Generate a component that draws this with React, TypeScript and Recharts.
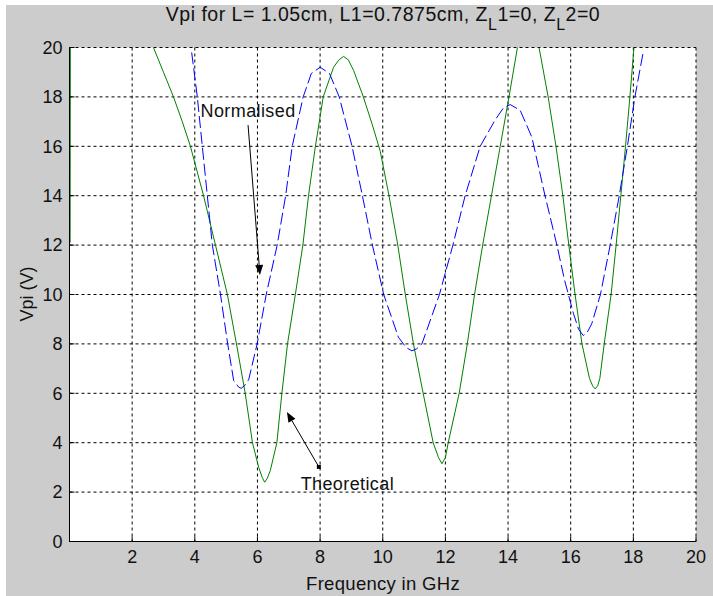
import React from 'react'
import { LineChart, Line, XAxis, YAxis, CartesianGrid, ReferenceLine, ReferenceDot } from 'recharts'

const xTicks = [0, 2, 4, 6, 8, 10, 12, 14, 16, 18, 20]
const yTicks = [0, 2, 4, 6, 8, 10, 12, 14, 16, 18, 20]

const theoFreq = [
  0.02, 0.03, 2.4, 2.68, 3.0, 3.32, 3.6, 3.86, 4.28, 4.66, 5.04, 5.33, 5.61, 5.84, 6.04, 6.15, 6.23, 6.31, 6.41,
  6.62, 6.78, 6.96, 7.21, 7.45, 7.63, 7.85, 8.1, 8.43, 8.6, 8.75, 8.9, 9.07, 9.38, 9.66, 9.92, 10.2, 10.48,
  10.72, 10.98, 11.29, 11.61, 11.78, 11.89, 12.0, 12.09, 12.44, 12.7, 12.93, 13.19, 13.47, 13.75, 14.03,
  14.3, 14.65, 14.99, 15.28, 15.53, 15.75, 15.94, 16.14, 16.36, 16.6, 16.7, 16.78, 16.86, 16.93, 17.07,
  17.29, 17.45, 17.6, 17.75, 17.89, 18.02, 18.1,
]
const theoVpi = [
  12.1, 25, 20.9, 20, 19.0, 18, 17.0, 16, 14, 12, 10, 8, 6, 4, 3.0, 2.6, 2.4, 2.55, 2.87,
  4, 6, 8, 10, 12, 14, 16, 18, 19.2, 19.5, 19.64, 19.5, 19.07, 18, 16.9, 15.8, 14, 12,
  10, 8, 6, 4, 3.4, 3.15, 3.4, 4, 6, 8, 10, 12, 14, 16, 18,
  20, 20.8, 20, 18, 16, 14, 12, 10, 8, 6.6, 6.3, 6.18, 6.3, 6.6, 8,
  10, 12, 14, 16, 18, 20, 21,
]

const normFreq = [
  3.9, 4.08, 4.24, 4.4, 4.56, 4.82, 5.05, 5.24, 5.4, 5.48, 5.58, 5.72, 5.99, 6.28, 6.63, 6.9, 7.11, 7.46, 7.72,
  8.0, 8.3, 8.61, 9.02, 9.35, 9.67, 10.03, 10.5, 10.75, 10.93, 11.08, 11.25, 11.81, 12.24, 12.63, 13.11,
  13.59, 13.85, 14.07, 14.39, 14.76, 15.18, 15.56, 15.8, 16.09, 16.25, 16.4, 16.52, 16.67, 16.95, 17.1,
  17.26, 17.55, 17.81, 18.05, 18.32,
]
const normVpi = [
  19.8, 18, 16, 14, 12, 10, 8, 6.52, 6.25, 6.2, 6.3, 6.55, 8, 10, 12, 14, 16, 18, 18.95,
  19.2, 18.95, 18, 16, 14, 12, 10, 8.27, 7.85, 7.72, 7.8, 8, 10, 12, 14, 16,
  17.07, 17.55, 17.69, 17.45, 16.37, 14, 12, 10.6, 9.22, 8.6, 8.34, 8.45, 8.81, 10, 10.97,
  12, 14, 16, 18, 19.85,
]

const theoretical = theoFreq.map((f, i) => ({ f, v: theoVpi[i] }))
const normalised = normFreq.map((f, i) => ({ f, v: normVpi[i] }))

const font = '"Liberation Sans", Arial, Helvetica, sans-serif'

const Arrow = (props: any) => {
  const { x1, y1, x2, y2 } = props
  const a = Math.atan2(y2 - y1, x2 - x1)
  const len = 10
  const half = 4
  const bx = x2 - len * Math.cos(a)
  const by = y2 - len * Math.sin(a)
  const px = -Math.sin(a) * half
  const py = Math.cos(a) * half
  return (
    <g>
      <line x1={x1} y1={y1} x2={bx} y2={by} stroke="#000" strokeWidth={1} />
      <polygon points={`${x2},${y2} ${bx + px},${by + py} ${bx - px},${by - py}`} fill="#000" />
    </g>
  )
}

const note = (label: string) => (p: any) => (
  <text x={p.cx} y={p.cy} textAnchor="middle" fontSize={18} fill="#111" style={{ fontFamily: font, letterSpacing: '0.4px' }}>
    {label}
  </text>
)

const square = (p: any) => <rect x={p.cx - 2} y={p.cy - 2} width={4} height={4} fill="#000" />

export default function App() {
  return (
    <div style={{ position: 'relative', width: 713, height: 596, background: '#fff', fontFamily: font, overflow: 'hidden' }}>
      <style>{'body{margin:0}'}</style>
      <div style={{ position: 'absolute', left: 6, top: 5, right: 0, bottom: 0, background: '#cccccc' }} />

      <div style={{ position: 'absolute', left: 383, top: 5, transform: 'translateX(-50%)', whiteSpace: 'nowrap', fontSize: 19.5, lineHeight: '19px', letterSpacing: '0.5px', color: '#111' }}>
        Vpi for L= 1.05cm, L1=0.7875cm, Z<span style={{ position: 'relative', top: 9, fontSize: 16 }}>L</span>1=0, Z<span style={{ position: 'relative', top: 9, fontSize: 16 }}>L</span>2=0
      </div>
      <div style={{ position: 'absolute', left: 27, top: 294, transform: 'translate(-50%,-50%) rotate(-90deg)', whiteSpace: 'nowrap', fontSize: 18, lineHeight: '18px', color: '#111' }}>
        Vpi (V)
      </div>
      <div style={{ position: 'absolute', left: 383, top: 575, transform: 'translateX(-50%)', whiteSpace: 'nowrap', fontSize: 18.5, lineHeight: '18px', letterSpacing: '0.3px', color: '#111' }}>
        Frequency in GHz
      </div>

      <div style={{ position: 'absolute', left: 0, top: 0 }}>
        <LineChart width={713} height={596} margin={{ top: 47.5, right: 17, bottom: 24.5, left: 29.5 }}>
          <CartesianGrid xAxisId="b" yAxisId="l" stroke="#000" strokeDasharray="3 3" fill="#fff" fillOpacity={1} />
          <XAxis
            xAxisId="b"
            type="number"
            dataKey="f"
            domain={[0, 20]}
            ticks={xTicks}
            interval={0}
            allowDataOverflow
            height={30}
            tickSize={-5}
            tickMargin={14}
            stroke="#000"
            tick={{ fill: '#111', fontSize: 18 }}
            tickFormatter={(v: number) => (v === 0 ? '' : String(v))}
          />
          <XAxis xAxisId="t" orientation="top" type="number" domain={[0, 20]} ticks={xTicks} interval={0} height={0} tickSize={-5} tick={false} stroke="#000" />
          <YAxis
            yAxisId="l"
            type="number"
            dataKey="v"
            domain={[0, 20]}
            ticks={yTicks}
            interval={0}
            allowDataOverflow
            width={40}
            tickSize={-5}
            tickMargin={12}
            stroke="#000"
            tick={{ fill: '#111', fontSize: 18 }}
          />
          <YAxis yAxisId="r" orientation="right" type="number" domain={[0, 20]} ticks={yTicks} interval={0} width={0} tickSize={-5} tick={false} stroke="#000" />

          <Line xAxisId="b" yAxisId="l" data={theoretical} dataKey="v" type="linear" stroke="#008000" strokeWidth={1} dot={false} activeDot={false} isAnimationActive={false} />
          <Line xAxisId="b" yAxisId="l" data={normalised} dataKey="v" type="linear" stroke="#0000ff" strokeWidth={1} strokeDasharray="12 4" dot={false} activeDot={false} isAnimationActive={false} />

          <ReferenceLine xAxisId="b" yAxisId="l" segment={[{ x: 5.7, y: 16.86 }, { x: 6.08, y: 10.79 }]} shape={Arrow} />
          <ReferenceDot xAxisId="b" yAxisId="l" x={5.7} y={17.19} shape={note('Normalised')} />
          <ReferenceLine xAxisId="b" yAxisId="l" segment={[{ x: 7.96, y: 3.02 }, { x: 6.94, y: 5.24 }]} shape={Arrow} />
          <ReferenceDot xAxisId="b" yAxisId="l" x={7.96} y={3.02} shape={square} />
          <ReferenceDot xAxisId="b" yAxisId="l" x={8.87} y={2.09} shape={note('Theoretical')} />
        </LineChart>
      </div>
    </div>
  )
}
